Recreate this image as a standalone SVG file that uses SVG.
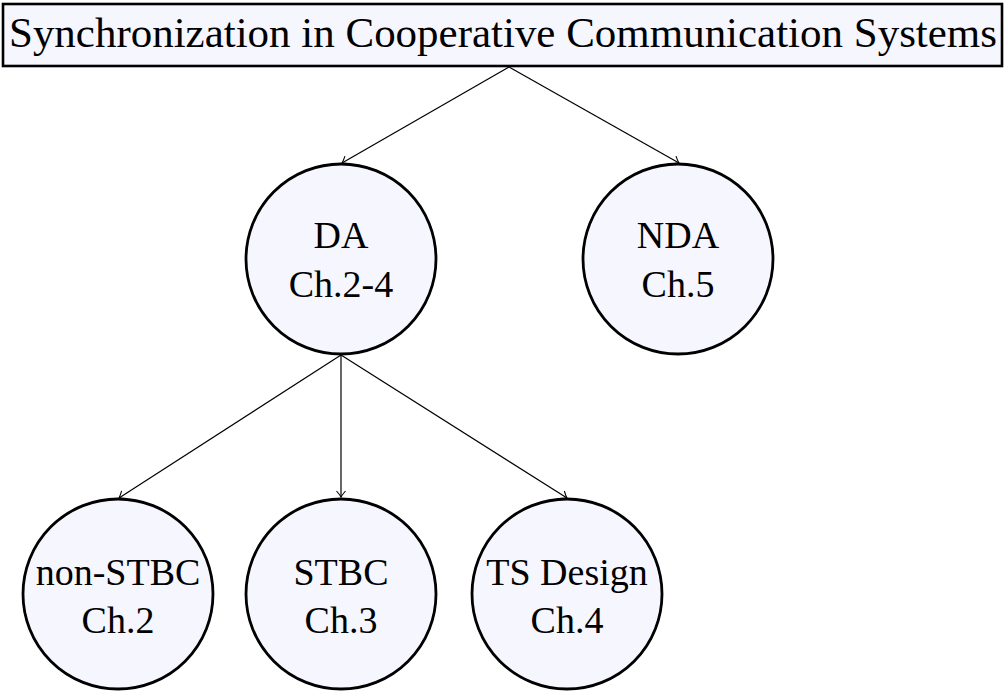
<svg xmlns="http://www.w3.org/2000/svg" width="1006" height="691" viewBox="0 0 1006 691">
<defs>
<marker id="arr" markerUnits="userSpaceOnUse" markerWidth="14" markerHeight="14" viewBox="-8 -7 10 14" refX="0" refY="0" orient="auto">
<path d="M-6,-4.5 Q-2,-1 0,0 Q-2,1 -6,4.5" fill="none" stroke="#000" stroke-width="1.1"/>
</marker>
</defs>
<g id="title">
<rect x="3" y="4" width="999" height="62" fill="#f5f6fe" stroke="#000" stroke-width="2.6"/>
<text font-family="Liberation Serif" font-size="42" x="9" y="47" textLength="988" lengthAdjust="spacingAndGlyphs">Synchronization in Cooperative Communication Systems</text>
</g>
<g id="connectors" stroke="#000" stroke-width="1.2" fill="none" marker-end="url(#arr)">
<line x1="509" y1="67" x2="342" y2="163"/>
<line x1="509" y1="67" x2="679" y2="163"/>
<line x1="341" y1="355" x2="119" y2="498"/>
<line x1="341" y1="355" x2="341" y2="497"/>
<line x1="341" y1="355" x2="567" y2="498"/>
</g>
<g id="da">
<circle cx="341" cy="259" r="95" fill="#f5f6fe" stroke="#000" stroke-width="2.8"/>
<text font-family="Liberation Serif" font-size="38" text-anchor="middle" x="341" y="248">DA</text>
<text font-family="Liberation Serif" font-size="38" text-anchor="middle" x="341" y="297">Ch.2-4</text>
</g>
<g id="nda">
<circle cx="678" cy="259" r="95" fill="#f5f6fe" stroke="#000" stroke-width="2.8"/>
<text font-family="Liberation Serif" font-size="38" text-anchor="middle" x="678" y="248">NDA</text>
<text font-family="Liberation Serif" font-size="38" text-anchor="middle" x="678" y="297">Ch.5</text>
</g>
<g id="nonstbc">
<circle cx="118" cy="594" r="95" fill="#f5f6fe" stroke="#000" stroke-width="2.8"/>
<text font-family="Liberation Serif" font-size="38" text-anchor="middle" x="118" y="585">non-STBC</text>
<text font-family="Liberation Serif" font-size="38" text-anchor="middle" x="118" y="633">Ch.2</text>
</g>
<g id="stbc">
<circle cx="341" cy="594" r="95" fill="#f5f6fe" stroke="#000" stroke-width="2.8"/>
<text font-family="Liberation Serif" font-size="38" text-anchor="middle" x="341" y="585">STBC</text>
<text font-family="Liberation Serif" font-size="38" text-anchor="middle" x="341" y="633">Ch.3</text>
</g>
<g id="tsdesign">
<circle cx="567" cy="594" r="95" fill="#f5f6fe" stroke="#000" stroke-width="2.8"/>
<text font-family="Liberation Serif" font-size="38" text-anchor="middle" x="567" y="585">TS Design</text>
<text font-family="Liberation Serif" font-size="38" text-anchor="middle" x="567" y="633">Ch.4</text>
</g>
</svg>
